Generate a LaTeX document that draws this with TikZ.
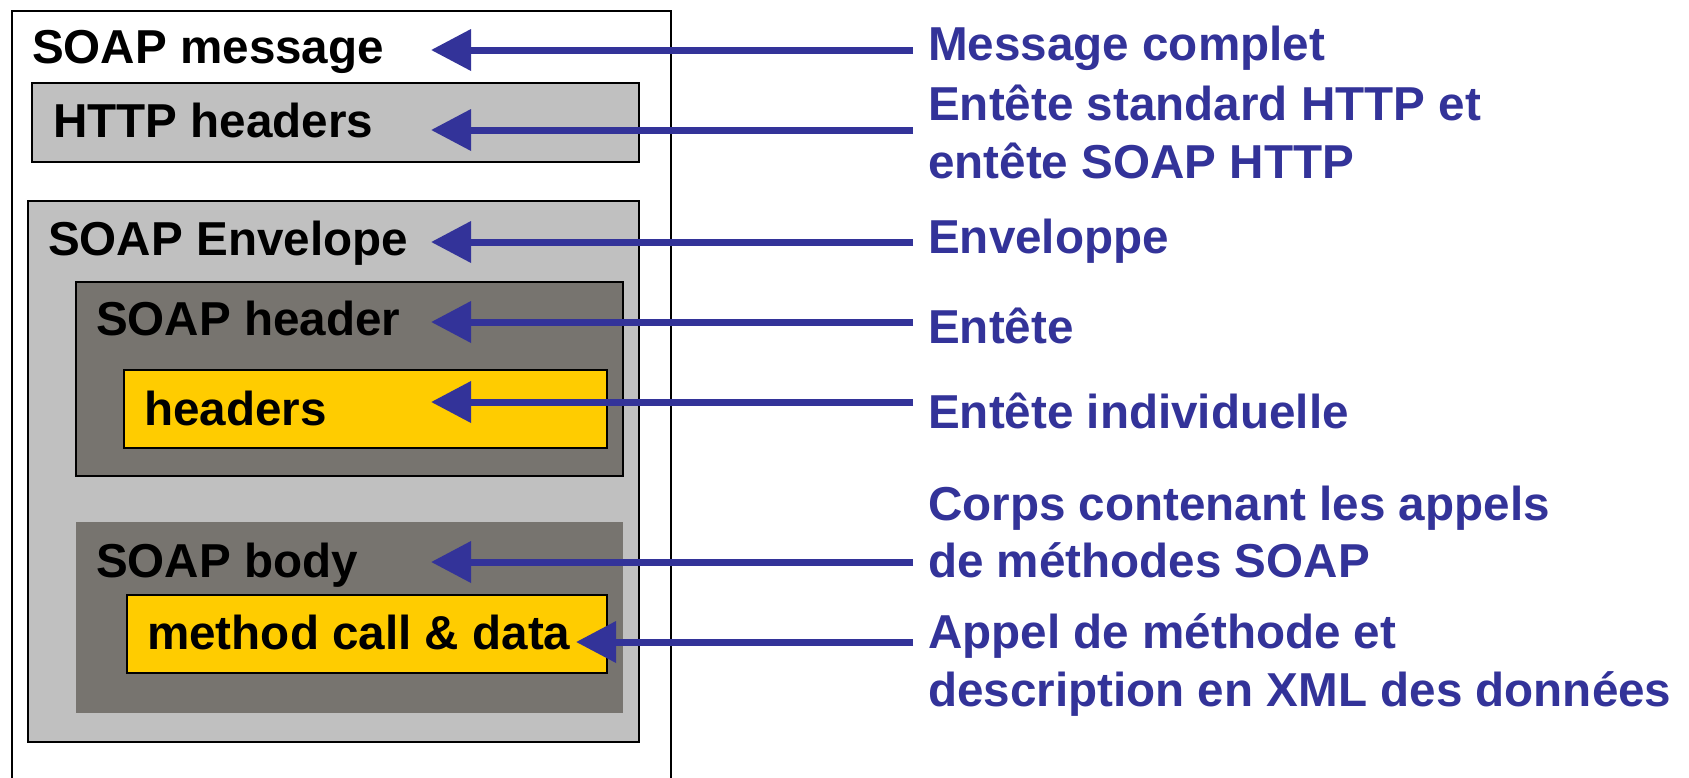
\documentclass[tikz,border=0pt]{standalone}
\usepackage{fontspec}
\setmainfont{Liberation Sans}
\usetikzlibrary{arrows.meta}
\definecolor{lblue}{RGB}{51,51,153}
\definecolor{lgray}{RGB}{192,192,192}
\definecolor{dgray}{RGB}{119,116,111}
\definecolor{ylw}{RGB}{255,204,0}
\begin{document}
\begin{tikzpicture}[x=1pt,y=-1pt,
  boxnode/.style={draw=black, line width=1.5pt, inner sep=0pt, outer sep=0pt, anchor=north west},
  txt/.style={anchor=base west, inner sep=0pt, font=\fontsize{47.6}{58}\selectfont\bfseries},
  lab/.style={txt, text=lblue},
  arr/.style={draw=lblue, line width=7pt, -{Triangle[length=40pt,width=40pt]}}]
\useasboundingbox[fill=white] (0,0) rectangle (1689,777);
% outer message frame (open at bottom)
\draw[line width=1.5pt] (12,800) -- (12,11) -- (671,11) -- (671,800);
% boxes
\node[boxnode, fill=lgray, minimum width=607pt, minimum height=79pt] (http) at (32,83) {};
\node[boxnode, fill=lgray, minimum width=611pt, minimum height=541pt] (env) at (28,201) {};
\node[boxnode, fill=dgray, minimum width=547pt, minimum height=194pt] (hdr) at (76,282) {};
\node[boxnode, fill=ylw, minimum width=483pt, minimum height=78pt] (hdrs) at (124,370) {};
\node[boxnode, draw=none, fill=dgray, minimum width=547pt, minimum height=191pt] (body) at (76,522) {};
\node[boxnode, fill=ylw, minimum width=480pt, minimum height=78pt] (meth) at (127,595) {};
% box texts
\node[txt] (t1) at (32,63) {SOAP message};
\node[txt] (t2) at (53,137) {HTTP headers};
\node[txt] (t3) at (48,255) {SOAP Envelope};
\node[txt] (t4) at (96,335) {SOAP header};
\node[txt] (t5) at (144,425) {headers};
\node[txt] (t6) at (96,577) {SOAP body};
\node[txt] (t7) at (147,649) {method call \& data};
% right labels
\node[lab] (l1) at (928,60) {Message complet};
\node[lab] (l2a) at (928,120) {Entête standard HTTP et};
\node[lab] (l2b) at (928,178) {entête SOAP HTTP};
\node[lab] (l3) at (928,253) {Enveloppe};
\node[lab] (l4) at (928,343) {Entête};
\node[lab] (l5) at (928,428) {Entête individuelle};
\node[lab] (l6a) at (928,520) {Corps contenant les appels};
\node[lab] (l6b) at (928,577) {de méthodes SOAP};
\node[lab] (l7a) at (928,648) {Appel de méthode et};
\node[lab] (l7b) at (928,706) {description en XML des données};
% arrow coordinates
\coordinate (s1) at (913,50);  \coordinate (a1) at (431,50);
\coordinate (s2) at (913,130); \coordinate (a2) at (431,130);
\coordinate (s3) at (913,242); \coordinate (a3) at (431,242);
\coordinate (s4) at (913,322); \coordinate (a4) at (431,322);
\coordinate (s5) at (913,402); \coordinate (a5) at (431,402);
\coordinate (s6) at (913,562); \coordinate (a6) at (431,562);
\coordinate (s7) at (913,642); \coordinate (a7) at (576,642);
\draw[arr] (s1) -- (a1);
\draw[arr] (s2) -- (a2);
\draw[arr] (s3) -- (a3);
\draw[arr] (s4) -- (a4);
\draw[arr] (s5) -- (a5);
\draw[arr] (s6) -- (a6);
\draw[arr] (s7) -- (a7);
\end{tikzpicture}
\end{document}
